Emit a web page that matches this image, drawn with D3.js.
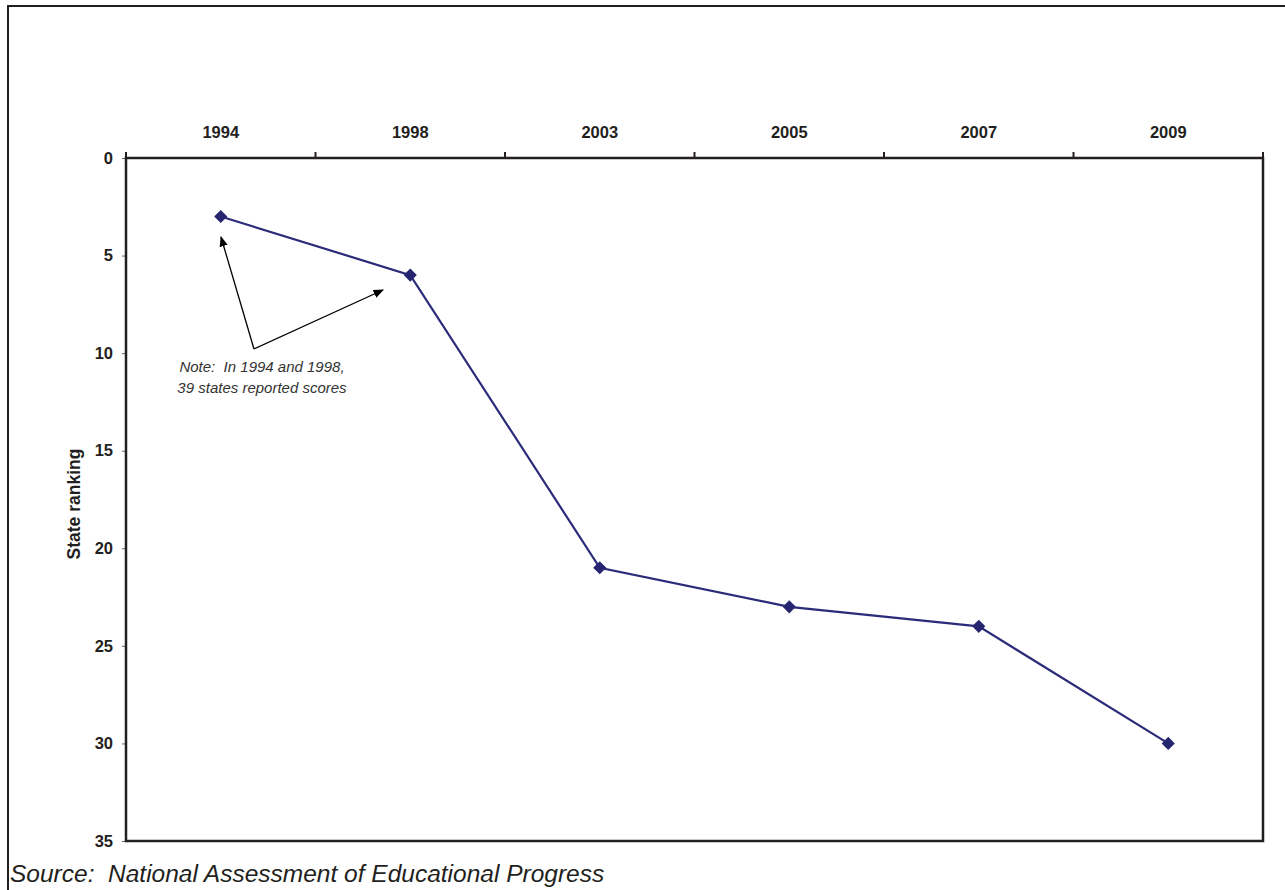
<!DOCTYPE html>
<html><head><meta charset="utf-8">
<script src="https://cdn.jsdelivr.net/npm/d3@7"></script>
<style>body{margin:0;background:#fff;}svg{display:block;font-family:"Liberation Sans",Arial,sans-serif;}text{white-space:pre;}</style>
</head><body>
<svg id="c" width="1285" height="890"></svg>
<script>
const years = ["1994","1998","2003","2005","2007","2009"];
const ranks = [3, 6, 21, 23, 24, 30];
const yTicks = [0,5,10,15,20,25,30,35];
const noteLines = ["Note:  In 1994 and 1998,", "39 states reported scores"];
const sourceText = "Source:  National Assessment of Educational Progress";
const yLabel = "State ranking";

const svg = d3.select("#c");
const L = 126, T = 158, R = 1263, B = 841;
const x = d3.scaleBand().domain(years).range([L, R]);
const y = d3.scaleLinear().domain([0, 35]).range([T, B]);

// outer frame
svg.append("rect").attr("x", 8).attr("y", 6).attr("width", 1290).attr("height", 900)
  .attr("fill", "none").attr("stroke", "#231f20").attr("stroke-width", 2);

// y axis ticks
const yAx = svg.append("g").attr("transform", `translate(${L},0)`)
  .call(d3.axisLeft(y).tickValues(yTicks).tickSize(4).tickPadding(9).tickFormat(d3.format("d")));
yAx.select(".domain").remove();
yAx.selectAll(".tick line").attr("stroke", "#666").attr("stroke-width", 1);
yAx.selectAll(".tick text").attr("font-size", 16.5).attr("font-weight", "bold").attr("fill", "#231f20")
  .attr("font-family", "Liberation Sans, Arial, sans-serif");

// top axis: category boundary ticks
const bounds = years.map(d => x(d)).concat([R]);
svg.append("g").selectAll("line").data(bounds).join("line")
  .attr("x1", d => d).attr("x2", d => d).attr("y1", T - 6).attr("y2", T)
  .attr("stroke", "#231f20").attr("stroke-width", 2);
svg.append("g").selectAll("text").data(years).join("text")
  .attr("x", d => x(d) + x.bandwidth() / 2).attr("y", T - 20)
  .attr("text-anchor", "middle").attr("font-size", 16.5).attr("font-weight", "bold").attr("fill", "#231f20")
  .text(d => d);

// plot frame
svg.append("rect").attr("x", L).attr("y", T).attr("width", R - L).attr("height", B - T)
  .attr("fill", "none").attr("stroke", "#231f20").attr("stroke-width", 2.5);

// y label
svg.append("text").attr("transform", `translate(80,504) rotate(-90)`)
  .attr("text-anchor", "middle").attr("font-size", 17.5).attr("font-weight", "bold").attr("fill", "#231f20")
  .text(yLabel);

// line
const cx = d => x(d) + x.bandwidth() / 2;
const line = d3.line().x((d, i) => cx(years[i])).y(d => y(d));
svg.append("path").datum(ranks).attr("d", line).attr("fill", "none")
  .attr("stroke", "#2b2b7a").attr("stroke-width", 2.2);
svg.append("g").selectAll("path").data(ranks).join("path")
  .attr("d", d3.symbol(d3.symbolDiamond2, 110))
  .attr("transform", (d, i) => `translate(${cx(years[i])},${y(d)})`)
  .attr("fill", "#252570");

// annotation arrows
const defs = svg.append("defs");
defs.append("marker").attr("id", "ah").attr("viewBox", "0 0 10 10").attr("refX", 9).attr("refY", 5)
  .attr("markerWidth", 8).attr("markerHeight", 8).attr("orient", "auto-start-reverse")
  .append("path").attr("d", "M0,1 L10,5 L0,9 Z").attr("fill", "#000");
const ox = 254, oy = 349;
svg.append("line").attr("x1", ox).attr("y1", oy).attr("x2", 221).attr("y2", 237)
  .attr("stroke", "#000").attr("stroke-width", 1.3).attr("marker-end", "url(#ah)");
svg.append("line").attr("x1", ox).attr("y1", oy).attr("x2", 383).attr("y2", 290)
  .attr("stroke", "#000").attr("stroke-width", 1.3).attr("marker-end", "url(#ah)");
svg.append("g").selectAll("text").data(noteLines).join("text")
  .attr("x", 262).attr("y", (d, i) => 372 + i * 21).attr("text-anchor", "middle")
  .attr("font-size", 15).attr("font-style", "italic").attr("fill", "#333").text(d => d);

// source
svg.append("text").attr("x", 10).attr("y", 882).attr("font-size", 24.5).attr("font-style", "italic")
  .attr("fill", "#231f20").text(sourceText);
</script>
</body></html>
